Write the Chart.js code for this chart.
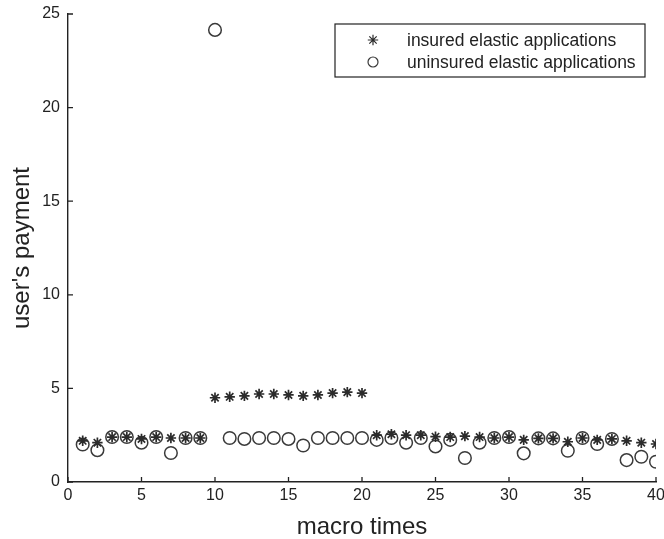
<!DOCTYPE html>
<html>
<head>
<meta charset="utf-8">
<script src="https://cdn.jsdelivr.net/npm/chart.js@4/dist/chart.umd.min.js"></script>
<style>
  html, body { margin: 0; padding: 0; background: #fff; }
  #wrap { position: relative; width: 664px; height: 539px; }
</style>
</head>
<body>
<div id="wrap"><canvas id="chart"></canvas></div>
<script>
const times = [1, 2, 3, 4, 5, 6, 7, 8, 9, 10, 11, 12, 13, 14, 15, 16, 17, 18, 19, 20,
  21, 22, 23, 24, 25, 26, 27, 28, 29, 30, 31, 32, 33, 34, 35, 36, 37, 38, 39, 40];

const insured = [2.2, 2.1, 2.4, 2.4, 2.3, 2.4, 2.35, 2.35, 2.35, 4.5,
  4.55, 4.6, 4.7, 4.7, 4.65, 4.6, 4.65, 4.75, 4.8, 4.75,
  2.5, 2.55, 2.5, 2.5, 2.42, 2.4, 2.45, 2.4, 2.35, 2.4,
  2.25, 2.33, 2.33, 2.15, 2.35, 2.25, 2.3, 2.2, 2.1, 2.03];

const uninsured = [2.0, 1.7, 2.4, 2.4, 2.1, 2.4, 1.55, 2.35, 2.35, 24.15,
  2.35, 2.3, 2.35, 2.35, 2.3, 1.95, 2.35, 2.35, 2.35, 2.35,
  2.25, 2.35, 2.1, 2.35, 1.9, 2.25, 1.28, 2.1, 2.35, 2.4,
  1.53, 2.33, 2.33, 1.67, 2.35, 2.03, 2.3, 1.17, 1.35, 1.08];

const xTicks = [0, 5, 10, 15, 20, 25, 30, 35, 40];
const yTicks = [0, 5, 10, 15, 20, 25];

const seriesNames = ['insured elastic applications', 'uninsured elastic applications'];

const FONT = '"Liberation Sans", Arial, sans-serif';
const INK = '#222';

const toPoints = (vals) => vals.map((v, i) => ({ x: times[i], y: v }));

// small tick marks pointing into the plot, like the old matlab axes
const innerTicks = {
  id: 'innerTicks',
  afterDraw(chart) {
    const { ctx, chartArea, scales } = chart;
    ctx.save();
    ctx.strokeStyle = INK;
    ctx.lineWidth = 1.3;
    ctx.beginPath();
    xTicks.forEach((t) => {
      const px = scales.x.getPixelForValue(t);
      ctx.moveTo(px, chartArea.bottom);
      ctx.lineTo(px, chartArea.bottom - 5);
    });
    yTicks.forEach((t) => {
      const py = scales.y.getPixelForValue(t);
      ctx.moveTo(chartArea.left, py);
      ctx.lineTo(chartArea.left + 5, py);
    });
    ctx.stroke();
    ctx.restore();
  }
};

// boxed legend in the upper right corner of the plot
const boxLegend = {
  id: 'boxLegend',
  afterDraw(chart) {
    const { ctx, chartArea } = chart;
    const w = 310, h = 53;
    const left = chartArea.right - 11 - w;
    const top = chartArea.top + 10;
    ctx.save();
    ctx.fillStyle = '#fff';
    ctx.fillRect(left, top, w, h);
    ctx.strokeStyle = INK;
    ctx.lineWidth = 1.2;
    ctx.strokeRect(left, top, w, h);
    ctx.font = '17.5px ' + FONT;
    ctx.textBaseline = 'middle';
    chart.data.datasets.forEach((ds, i) => {
      const y = top + 16 + i * 22;
      ctx.strokeStyle = ds.borderColor;
      ctx.fillStyle = 'rgba(0,0,0,0)';
      Chart.helpers.drawPoint(ctx, {
        pointStyle: ds.pointStyle,
        radius: ds.pointStyle === 'circle' ? 5 : ds.pointRadius,
        borderWidth: ds.pointBorderWidth,
        rotation: 0
      }, left + 38, y);
      ctx.fillStyle = INK;
      ctx.fillText(ds.label, left + 72, y + 1);
    });
    ctx.restore();
  }
};

new Chart(document.getElementById('chart'), {
  type: 'scatter',
  data: {
    datasets: [
      {
        label: seriesNames[0],
        data: toPoints(insured),
        pointStyle: 'star',
        pointRadius: 5.2,
        pointBorderWidth: 1.7,
        borderColor: '#2b2b2b',
        backgroundColor: 'rgba(0,0,0,0)',
        showLine: false
      },
      {
        label: seriesNames[1],
        data: toPoints(uninsured),
        pointStyle: 'circle',
        pointRadius: 6.3,
        pointBorderWidth: 1.5,
        borderColor: '#3a3a3a',
        backgroundColor: 'rgba(0,0,0,0)',
        showLine: false
      }
    ]
  },
  options: {
    responsive: true,
    maintainAspectRatio: false,
    animation: false,
    layout: { padding: { left: 0, top: 14, right: 8, bottom: 0 } },
    plugins: {
      legend: { display: false },
      tooltip: { enabled: false }
    },
    scales: {
      x: {
        type: 'linear',
        min: 0,
        max: 40,
        afterBuildTicks: (s) => { s.ticks = xTicks.map((v) => ({ value: v })); },
        afterFit: (s) => {
          s.height = 57;
          s.paddingLeft = 0;
          s.paddingRight = 0;
        },
        grid: { display: false, drawTicks: false },
        border: { display: true, color: INK, width: 1.4 },
        ticks: { color: INK, padding: 4, maxRotation: 0, font: { family: FONT, size: 16 } },
        title: {
          display: true,
          text: 'macro times',
          color: INK,
          padding: 0,
          font: { family: FONT, size: 24, lineHeight: 1 }
        }
      },
      y: {
        min: 0,
        max: 25,
        afterBuildTicks: (s) => { s.ticks = yTicks.map((v) => ({ value: v })); },
        afterFit: (s) => {
          s.width = 68;
          s.paddingTop = 0;
          s.paddingBottom = 0;
        },
        grid: { display: false, drawTicks: false },
        border: { display: true, color: INK, width: 1.4 },
        ticks: { color: INK, padding: 8, font: { family: FONT, size: 16 } },
        title: {
          display: true,
          text: "user's payment",
          color: INK,
          padding: { top: 10, bottom: 0 },
          font: { family: FONT, size: 24, lineHeight: 1 }
        }
      }
    }
  },
  plugins: [innerTicks, boxLegend]
});
</script>
</body>
</html>
